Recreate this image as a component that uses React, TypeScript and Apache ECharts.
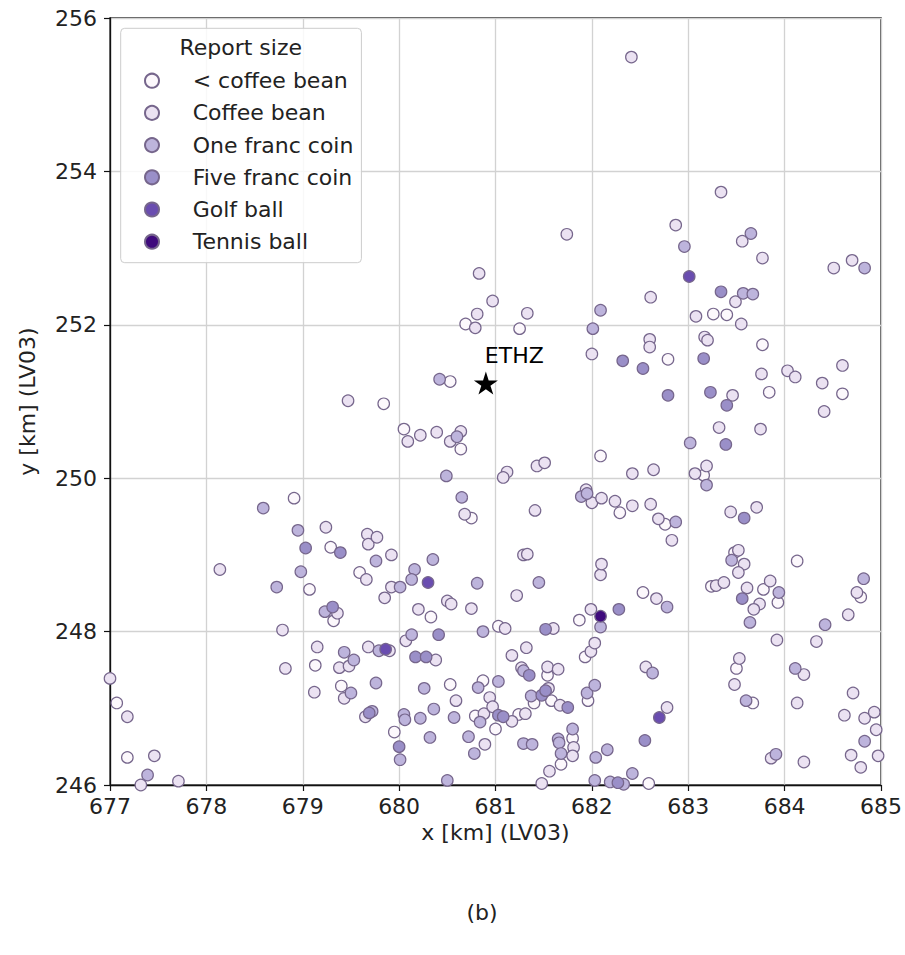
import React, { useEffect, useRef } from "react";
import * as echarts from "echarts";

// ---------- data ----------
const categories = ["< coffee bean", "Coffee bean", "One franc coin", "Five franc coin", "Golf ball", "Tennis ball"];
const categoryColors = ["#fcf8fc", "#ebe2f2", "#bdb4dc", "#9a8fc8", "#6a4db0", "#3f0a7d"];

const xTickMin = 677;
const xTickMax = 685;
const xTickStep = 1;
const yTickMin = 246;
const yTickMax = 256;
const yTickStep = 2;

const ethzLocation: [number, number] = [680.9, 251.24];
const ethzName = "ETHZ";

const lessThanCoffeeBean: [number, number][] = [
  [683.77, 251.74], [682.79, 251.55], [684.6, 251.1], [683.84, 251.12], [683.26, 252.14], [683.4, 252.13],
  [679.59, 248.77], [680.33, 248.19], [681.87, 248.15], [681.03, 248.07], [680.75, 249.48], [679.84, 250.97],
  [679.95, 246.69], [680.53, 247.31], [680.87, 247.36], [681.0, 246.73], [681.24, 246.92], [681.54, 247.43],
  [681.58, 247.1], [681.8, 246.61], [681.68, 246.27], [681.96, 247.1], [681.93, 247.67], [680.79, 246.9],
  [681.4, 247.07], [683.5, 247.52], [683.67, 247.07], [682.59, 246.02], [677.07, 247.07], [680.69, 252.01],
  [681.25, 251.95], [680.53, 251.26], [682.09, 250.29], [683.16, 250.04], [682.29, 249.55], [682.76, 249.4],
  [683.48, 249.03], [683.24, 248.59], [683.78, 248.55], [683.93, 248.38], [684.13, 248.92], [684.79, 248.45],
  [682.53, 248.51], [678.91, 249.74], [679.29, 249.1], [679.07, 248.55], [679.32, 248.14], [677.18, 246.36],
  [679.13, 247.56], [679.4, 247.29], [680.05, 250.64], [680.64, 250.38],
];

const coffeeBean: [number, number][] = [
  [681.74, 253.18], [680.83, 252.67], [682.41, 255.49], [683.34, 253.73], [682.87, 253.3], [683.56, 253.09],
  [683.77, 252.87], [684.51, 252.74], [684.7, 252.84], [683.49, 252.3], [682.61, 252.36], [683.08, 252.11],
  [683.55, 252.01], [682.6, 251.81], [682.6, 251.71], [683.17, 251.84], [683.2, 251.8], [683.76, 251.36],
  [684.03, 251.4], [684.11, 251.32], [684.6, 251.47], [684.39, 251.24], [684.41, 250.87], [683.46, 251.08],
  [683.32, 250.66], [683.75, 250.64], [682.42, 250.06], [682.64, 250.11], [683.07, 250.06], [683.19, 250.16],
  [680.97, 252.31], [680.81, 252.14], [680.79, 251.96], [681.33, 252.15], [682.0, 251.62], [679.47, 251.01],
  [680.09, 250.48], [680.22, 250.56], [680.39, 250.6], [680.64, 250.61], [680.53, 250.48], [681.43, 250.16],
  [681.51, 250.2], [681.12, 250.08], [681.08, 250.01], [680.68, 249.53], [681.41, 249.58], [681.94, 249.85],
  [682.0, 249.68], [682.1, 249.74], [679.67, 249.27], [679.68, 249.14], [679.77, 249.23], [679.92, 249.0],
  [679.66, 248.68], [679.92, 248.58], [679.85, 248.44], [680.2, 248.29], [680.5, 248.4], [680.54, 248.36],
  [680.75, 248.3], [681.22, 248.47], [681.29, 249.0], [681.33, 249.01], [681.99, 248.29], [682.09, 248.74],
  [682.1, 248.88], [681.1, 248.04], [681.6, 248.04], [679.24, 249.36], [678.14, 248.81], [679.36, 248.24],
  [678.79, 248.02], [677.0, 247.39], [677.18, 246.89], [677.46, 246.38], [677.32, 246.0], [677.71, 246.05],
  [678.82, 247.52], [679.15, 247.8], [679.12, 247.21], [679.38, 247.53], [679.43, 247.13], [679.48, 247.55],
  [679.68, 247.8], [679.9, 247.75], [680.07, 247.88], [680.38, 247.63], [680.59, 247.1], [680.94, 247.14],
  [679.65, 246.89], [680.89, 246.53], [680.88, 246.93], [680.97, 247.02], [681.17, 246.83], [681.31, 246.93],
  [681.17, 247.69], [681.32, 247.79], [681.27, 247.53], [681.54, 247.54], [681.65, 247.51], [681.55, 247.26],
  [681.67, 247.04], [681.56, 246.18], [681.81, 246.49], [681.8, 246.38], [681.48, 246.02], [681.99, 247.74],
  [682.03, 247.85], [682.56, 247.54], [682.78, 247.01], [683.92, 247.89], [683.53, 247.65], [683.48, 247.31],
  [683.86, 246.35], [684.33, 247.87], [684.2, 247.44], [684.13, 247.07], [684.2, 246.3], [684.71, 247.2],
  [684.62, 246.91], [684.83, 246.87], [684.69, 246.39], [684.79, 246.23], [682.24, 249.7], [682.42, 249.64],
  [682.61, 249.66], [682.69, 249.47], [682.83, 249.19], [683.44, 249.56], [683.71, 249.62], [683.52, 249.06],
  [683.58, 248.88], [683.52, 248.77], [683.29, 248.6], [683.37, 248.64], [683.61, 248.57], [683.85, 248.66],
  [683.74, 248.36], [683.68, 248.29], [684.75, 248.51], [684.66, 248.22], [682.67, 248.43], [684.93, 246.95],
  [684.95, 246.72], [684.97, 246.38],
];

const oneFrancCoin: [number, number][] = [
  [684.83, 252.74], [683.65, 253.19], [682.96, 253.02], [682.09, 252.19], [682.01, 251.95], [680.42, 251.29],
  [680.6, 250.54], [680.49, 250.03], [683.02, 250.46], [680.65, 249.75], [681.89, 249.76], [681.95, 249.8],
  [679.76, 248.92], [680.35, 248.94], [680.16, 248.81], [680.13, 248.68], [680.01, 248.58], [680.81, 248.63],
  [681.45, 248.64], [682.09, 248.06], [680.87, 248.0], [680.13, 247.96], [678.59, 249.61], [678.95, 249.32],
  [678.98, 248.78], [678.73, 248.58], [679.23, 248.26], [677.39, 246.13], [679.43, 247.73], [679.53, 247.63],
  [679.79, 247.75], [679.76, 247.33], [679.5, 247.2], [680.26, 247.26], [680.82, 247.27], [681.03, 247.35],
  [679.72, 246.96], [680.05, 246.92], [680.06, 246.85], [680.22, 246.87], [680.36, 246.99], [680.57, 246.88],
  [680.01, 246.33], [680.32, 246.62], [680.5, 246.06], [680.72, 246.63], [680.78, 246.41], [680.84, 246.82],
  [681.29, 247.49], [681.37, 247.16], [681.29, 246.54], [681.38, 246.53], [681.65, 246.6], [681.66, 246.55],
  [681.68, 246.41], [681.8, 246.73], [681.95, 247.2], [682.03, 247.3], [682.04, 246.36], [682.03, 246.06],
  [682.63, 247.46], [682.16, 246.46], [682.42, 246.15], [682.19, 246.04], [682.33, 246.01], [683.6, 247.1],
  [683.91, 246.4], [684.11, 247.52], [684.83, 246.57], [683.19, 249.91], [682.87, 249.43], [683.45, 248.93],
  [683.94, 248.51], [683.64, 248.12], [684.82, 248.69], [684.42, 248.09], [682.78, 248.32], [683.57, 252.41],
  [683.67, 252.4],
];

const fiveFrancCoin: [number, number][] = [
  [683.34, 252.43], [682.32, 251.53], [682.53, 251.43], [682.79, 251.08], [683.16, 251.56], [683.23, 251.12],
  [683.4, 250.95], [683.39, 250.44], [679.39, 249.03], [679.03, 249.09], [680.41, 247.96], [679.31, 248.32],
  [681.52, 248.03], [683.58, 249.48], [683.56, 248.43], [682.28, 248.29], [682.55, 246.58], [680.17, 247.67],
  [680.28, 247.67], [681.35, 247.43], [681.48, 247.17], [681.52, 247.23], [681.75, 247.01], [681.03, 246.91],
  [681.08, 246.89], [680.0, 246.5], [679.69, 246.94], [682.27, 246.03],
];

const golfBall: [number, number][] = [
  [683.01, 252.63], [680.3, 248.64], [679.86, 247.77], [682.7, 246.88],
];

const tennisBall: [number, number][] = [
  [682.09, 248.2],
];

const seriesData = [lessThanCoffeeBean, coffeeBean, oneFrancCoin, fiveFrancCoin, golfBall, tennisBall];

const FONT = "DejaVu Sans";
const STAR =
  "path://M0,-50 L11.17,-15.37 L47.55,-15.45 L18.07,5.87 L29.39,40.45 L0,19 L-29.39,40.45 L-18.07,5.87 L-47.55,-15.45 L-11.17,-15.37 Z";

export default function App() {
  const ref = useRef<HTMLDivElement>(null);

  useEffect(() => {
    document.body.style.margin = "0";
    document.body.style.overflow = "hidden";
    if (!ref.current) return;
    const chart = echarts.init(ref.current, undefined, { renderer: "svg" });

    const scatterSeries = categories.map((name, i) => ({
      type: "scatter",
      name,
      data: seriesData[i],
      symbol: "circle",
      symbolSize: 11.5,
      clip: true,
      z: 2 + i,
      itemStyle: {
        color: categoryColors[i],
        borderColor: "#76668c",
        borderWidth: 1.2,
        opacity: 1,
      },
      emphasis: { disabled: true },
    }));

    chart.setOption({
      animation: false,
      backgroundColor: "#ffffff",
      textStyle: { fontFamily: FONT },
      grid: {
        left: 110,
        right: 22,
        top: 18,
        bottom: 170,
        show: true,
        borderColor: "#111",
        borderWidth: 1.3,
        backgroundColor: "transparent",
      },
      xAxis: {
        type: "value",
        min: xTickMin,
        max: xTickMax,
        interval: xTickStep,
        name: "x [km] (LV03)",
        nameLocation: "middle",
        nameGap: 36,
        nameTextStyle: { fontSize: 22, color: "#222", fontFamily: FONT },
        axisLine: { show: true, onZero: false, lineStyle: { color: "#111", width: 1.3 } },
        axisTick: { show: true, inside: false, length: 6, lineStyle: { color: "#111", width: 1.2 } },
        axisLabel: { fontSize: 22, color: "#222", margin: 10, fontFamily: FONT },
        splitLine: { show: true, lineStyle: { color: "#d2d2d2", width: 1.3 } },
      },
      yAxis: {
        type: "value",
        min: yTickMin,
        max: yTickMax,
        interval: yTickStep,
        name: "y [km] (LV03)",
        nameLocation: "middle",
        nameGap: 72,
        nameRotate: 90,
        nameTextStyle: { fontSize: 22, color: "#222", fontFamily: FONT },
        axisLine: { show: true, onZero: false, lineStyle: { color: "#111", width: 1.3 } },
        axisTick: { show: true, inside: false, length: 6, lineStyle: { color: "#111", width: 1.2 } },
        axisLabel: { fontSize: 22, color: "#222", margin: 13, fontFamily: FONT },
        splitLine: { show: true, lineStyle: { color: "#d2d2d2", width: 1.3 } },
      },
      legend: {
        data: categories,
        orient: "vertical",
        left: 120.7,
        top: 28.3,
        padding: [41.4, 8, 10, 23.3],
        itemWidth: 14,
        itemHeight: 14,
        itemGap: 10.2,
        icon: "circle",
        selectedMode: false,
        backgroundColor: "rgba(255,255,255,0.85)",
        borderColor: "#cccccc",
        borderWidth: 1,
        borderRadius: 4,
        textStyle: {
          fontSize: 22,
          lineHeight: 22,
          color: "#222",
          fontFamily: FONT,
          padding: [0, 0, 0, 28.7],
        },
      },
      graphic: [
        {
          type: "text",
          z: 100,
          x: 240.7,
          y: 47.3,
          style: {
            text: "Report size",
            fontSize: 22,
            fontFamily: FONT,
            fill: "#222",
            align: "center",
            verticalAlign: "middle",
          },
        },
        {
          type: "text",
          x: 482,
          y: 912,
          style: {
            text: "(b)",
            fontSize: 22,
            fontFamily: FONT,
            fill: "#222",
            align: "center",
            verticalAlign: "middle",
          },
        },
      ],
      series: [
        ...scatterSeries,
        {
          type: "scatter",
          name: ethzName,
          data: [ethzLocation],
          symbol: STAR,
          symbolSize: [24, 23],
          z: 20,
          itemStyle: { color: "#000", opacity: 1 },
          emphasis: { disabled: true },
          label: {
            show: true,
            formatter: ethzName,
            position: [11, -16],
            align: "left",
            verticalAlign: "middle",
            fontSize: 22,
            color: "#000",
            fontFamily: FONT,
          },
        },
      ],
    });

    return () => {
      chart.dispose();
    };
  }, []);

  return <div ref={ref} style={{ width: 905, height: 955 }} />;
}
